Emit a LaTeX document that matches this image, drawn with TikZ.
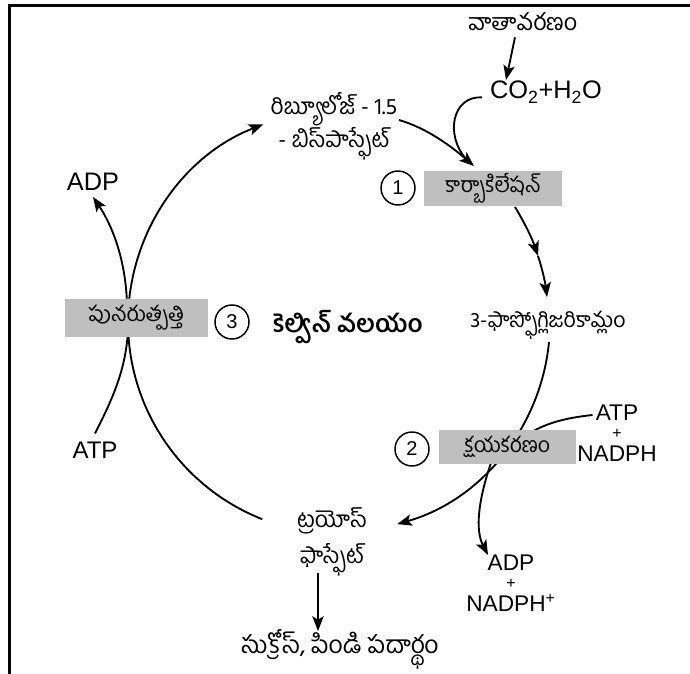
\documentclass[tikz,border=0pt]{standalone}
\usepackage{fontspec}
\setmainfont{Liberation Sans}
\newfontfamily\tel[Script=Telugu]{Hind Guntur}
\usetikzlibrary{arrows.meta}

\begin{document}
\begin{tikzpicture}[x=0.75pt,y=-0.75pt,
  tl/.style={font=\tel\fontsize{16}{20}\selectfont, inner sep=0pt},
  lt/.style={font=\fontsize{17}{20}\selectfont, inner sep=0pt},
  plus/.style={font=\fontsize{12}{13}\selectfont, inner sep=0pt},
  stage/.style={tl, fill=black!25},
  num/.style={circle, draw, line width=1.1pt, minimum size=25.5pt, inner sep=0pt,
    font=\fontsize{15}{16}\selectfont},
  flow/.style={line width=1.4pt},
  tip/.style={-{Stealth[length=11pt,width=8.5pt,inset=2.5pt]}},
]
\useasboundingbox (0,0) rectangle (690,674);

% open frame: left and top edges
\draw[line width=2.3pt] (9.5,680) -- (9.5,5.5) -- (695,5.5);

% free ends of the cycle and of side branches
\coordinate (tri-in) at (262.3,519.2);
\coordinate (ru-in)  at (263.3,124.4);
\coordinate (ru-out) at (399,120);
\coordinate (cx-in)  at (474,166);
\coordinate (mid1)   at (538,256);
\coordinate (pga-in) at (547,297);
\coordinate (pga-out) at (549,342);
\coordinate (tri-out) at (397.2,524.1);

% ---- text nodes ----
\node[tl, font=\tel\fontsize{17.5}{20}\selectfont] (atm) at (523,22) {వాతావరణం};
\node[lt, font=\fontsize{19}{20}\selectfont] (co2) at (546,92) {CO\textsubscript{2}+H\textsubscript{2}O};
\node[tl, align=center, font=\tel\fontsize{17}{22.5}\selectfont] (rubp) at (334,126)
  {రిబ్యూలోజ్ - 1.5\\- బిస్^^^^200cపాస్ఫేట్};
\node[tl, font=\tel\fontsize{16}{20}\selectfont] (pga) at (548,325) {3-ఫాస్ఫోగ్లిజరికామ్లం};
\node[tl, align=center, font=\tel\fontsize{17}{27}\selectfont] (triose) at (332,542)
  {ట్రయోస్\\ఫాస్ఫేట్};
\node[tl, font=\tel\fontsize{18.5}{22}\selectfont] (sucrose) at (340,649) {సుక్రోస్, పిండి పదార్థం};
\node[tl, font=\tel\bfseries\fontsize{18.5}{22}\selectfont] (kelvin) at (348,327) {కెల్విన్ వలయం};

\node[lt, font=\fontsize{19}{20}\selectfont] (adpL) at (93,182) {ADP};
\node[lt, font=\fontsize{18}{20}\selectfont] (atpL) at (95,450) {ATP};

\node[lt] (atpR) at (617,413) {ATP};
\node[plus] (plusR) at (617,434) {+};
\node[lt] (nadphR) at (617,454) {NADPH};

\node[lt] (adpB) at (511,563) {ADP};
\node[plus] (plusB) at (511,584) {+};
\node[lt] (nadphB) at (511,603) {NADPH\textsuperscript{+}};

% ---- Calvin cycle arcs (drawn under the stage boxes) ----
\draw[flow,tip] (tri-in) .. controls (181.3,487.3) and (128,409.1) .. (128,322)
  .. controls (128,234.5) and (181.7,156.0) .. (ru-in);
\draw[flow,tip] (ru-out) .. controls (427.4,128.3) and (451.6,146.7) .. (cx-in);
\draw[flow] (co2.south west) ++(-8,-6) coordinate (co2-out)
  (co2-out) .. controls (452,96) and (445,135) .. (466,159);
\draw[flow,tip] (515,207) .. controls (524.8,223) and (532.3,239) .. (mid1);
\draw[flow,tip] (mid1) .. controls (542.4,269.3) and (545.3,283.1) .. (pga-in);
\draw[flow,tip] (pga-out) .. controls (540.7,428.2) and (480.4,500.5) .. (tri-out);

% side branches
\draw[flow] (atpR.west) ++(-3,2) .. controls (565,418) and (545,423) .. (525,436);
\draw[flow,tip] (492,460) .. controls (478,500) and (475,530) .. (adpB.north -| 488,550);
\draw[flow,tip] (127,305) .. controls (126,260) and (112,225) .. (93,197);
\draw[flow] (atpL.north) ++(0,-8) .. controls (112,400) and (126,370) .. (128,330);
\draw[flow,tip] (atm.south) ++(-8,6) -- (506,80);
\draw[flow,tip] (318,573) -- (318,631);

% ---- stage boxes and their numbers ----
\node[stage, minimum width=103.5pt, minimum height=26.25pt] (carbox) at (493,188.5) {కార్బాకిలేషన్};
\node[stage, minimum width=102.75pt, minimum height=25.5pt] (redbox) at (507.5,447) {క్షయకరణం};
\node[stage, minimum width=107.25pt, minimum height=28.5pt] (regbox) at (136.5,318) {పునరుత్పత్తి};

\node[num] (n1) at (398,188) {1};
\node[num] (n2) at (412,449) {2};
\node[num] (n3) at (232,322) {3};
\end{tikzpicture}
\end{document}
